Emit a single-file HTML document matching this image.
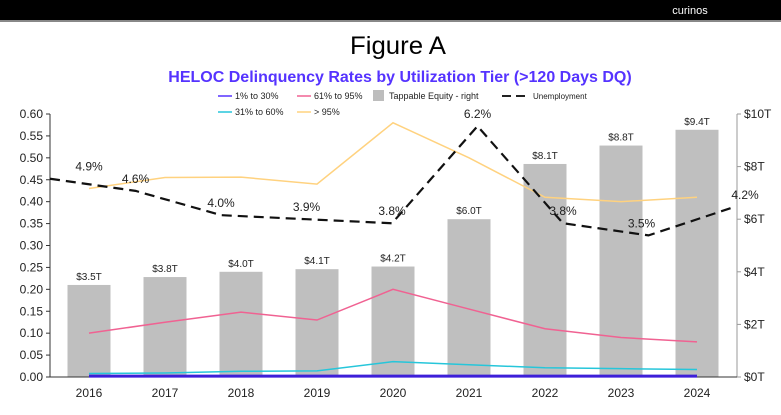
<!DOCTYPE html>
<html><head><meta charset="utf-8"><style>
body{margin:0;width:781px;height:410px;background:#fff;overflow:hidden;font-family:"Liberation Sans",Arial,sans-serif}
</style></head><body>
<svg id="c" width="781" height="410" font-family="Liberation Sans, Arial, sans-serif">
<rect x="0" y="0" width="781" height="20" fill="#000"/>
<rect x="0" y="20" width="781" height="2" fill="#888"/>
<text x="690" y="14" fill="#fff" font-size="11" text-anchor="middle">curinos</text>
<text x="398" y="54" font-size="25" text-anchor="middle" textLength="96" lengthAdjust="spacingAndGlyphs">Figure A</text>
<text x="400" y="82" font-size="16" font-weight="bold" fill="#5533ff" text-anchor="middle">HELOC Delinquency Rates by Utilization Tier (&gt;120 Days DQ)</text>
<g font-size="9" fill="#222">
<g><line x1="218" y1="96" x2="232" y2="96" stroke="#5533ff" stroke-width="1.5"/><text x="235" y="99">1% to 30%</text></g>
<g><line x1="297" y1="96" x2="311" y2="96" stroke="#f06292" stroke-width="1.5"/><text x="314" y="99">61% to 95%</text></g>
<g><rect x="373" y="90" width="11" height="11" fill="#bdbdbd"/><text x="389" y="99">Tappable Equity - right</text></g>
<g><line x1="502" y1="96" x2="530" y2="96" stroke="#222" stroke-width="2" stroke-dasharray="9,5"/><text x="533" y="99" font-size="8">Unemployment</text></g>
<g><line x1="218" y1="112" x2="232" y2="112" stroke="#26c6da" stroke-width="1.5"/><text x="235" y="115">31% to 60%</text></g>
<g><line x1="297" y1="112" x2="311" y2="112" stroke="#ffd27f" stroke-width="1.5"/><text x="314" y="115">&gt; 95%</text></g>
</g>
<g id="plot"></g>
</svg>
<script>
const years=["2016","2017","2018","2019","2020","2021","2022","2023","2024"];
const equity=[3.5,3.8,4.0,4.1,4.2,6.0,8.1,8.8,9.4];
const equityLabels=["$3.5T","$3.8T","$4.0T","$4.1T","$4.2T","$6.0T","$8.1T","$8.8T","$9.4T"];
const tier1to30=[0.002,0.002,0.002,0.002,0.002,0.002,0.002,0.002,0.002];
const tier31to60=[0.008,0.009,0.013,0.014,0.035,0.028,0.021,0.019,0.017];
const tier61to95=[0.10,0.125,0.148,0.13,0.20,0.155,0.11,0.09,0.08];
const tier95plus=[0.43,0.455,0.456,0.44,0.58,0.50,0.41,0.40,0.41];
const unemployment=[4.9,4.6,4.0,3.9,3.8,6.2,3.8,3.5,4.2];
const leftTicks=["0.00","0.05","0.10","0.15","0.20","0.25","0.30","0.35","0.40","0.45","0.50","0.55","0.60"];
const rightTicks=["$0T","$2T","$4T","$6T","$8T","$10T"];
const NS="http://www.w3.org/2000/svg";
const g=document.getElementById('plot');
const y0=377,yTop=114,H=y0-yTop;
const xS=i=>89+i*76;
const xU=i=>50+i*85.5;
const yL=v=>y0-v/0.6*H;
const yR=v=>y0-v/10*H;
const yU=v=>y0-v/6.5*H;
function el(t,a,p){const e=document.createElementNS(NS,t);for(const k in a)e.setAttribute(k,a[k]);(p||g).appendChild(e);return e;}
let a=el('line',{x1:50,y1:yTop,x2:50,y2:y0,stroke:'#333'});


a=el('line',{x1:737,y1:yTop,x2:737,y2:y0,stroke:'#999'});


leftTicks.forEach(t=>{const y=yL(parseFloat(t));el('line',{x1:46,y1:y,x2:50,y2:y,stroke:'#333'});
const tx=el('text',{x:43,y:y+4,'font-size':12,'text-anchor':'end',fill:'#222'});tx.textContent=t;

});
rightTicks.forEach((t,i)=>{const y=yR(i*2);el('line',{x1:737,y1:y,x2:741,y2:y,stroke:'#999'});
const tx=el('text',{x:744,y:y+4,'font-size':12,fill:'#222'});tx.textContent=t;

});
equity.forEach((v,i)=>{const r=el('rect',{x:xS(i)-21.5,y:yR(v),width:43,height:y0-yR(v),fill:'#bfbfbf'});


const t=el('text',{x:xS(i),y:yR(v)-5,'font-size':10,'text-anchor':'middle',fill:'#222'});t.textContent=equityLabels[i];

});
a=el('line',{x1:50,y1:y0,x2:737,y2:y0,stroke:'#333'});


years.forEach((yr,i)=>{const t=el('text',{x:xS(i),y:397,'font-size':12,'text-anchor':'middle',fill:'#222'});t.textContent=yr;

});
function line(arr,fx,f,col,w,name,dash){const p=el('polyline',{points:arr.map((v,i)=>fx(i)+','+f(v)).join(' '),fill:'none',stroke:col,'stroke-width':w});
if(dash)p.setAttribute('stroke-dasharray',dash);

}
line(tier95plus,xS,yL,'#ffd27f',1.5,'line-95plus');
line(tier61to95,xS,yL,'#f06292',1.5,'line-61-95');
line(tier31to60,xS,yL,'#26c6da',1.5,'line-31-60');
line(tier1to30,xS,yL,'#3d1fd9',3,'line-1-30');
line(unemployment,xU,yU,'#111',2.2,'line-unemployment','10,6');
unemployment.forEach((v,i)=>{let x=xU(i);if(i==0)x=89;if(i==8)x=745;if(i==7)x-=7;
const t=el('text',{x:x,y:yU(v)-8,'font-size':12,'text-anchor':'middle',fill:'#222'});t.textContent=v.toFixed(1)+'%';

});
</script>
</body></html>
